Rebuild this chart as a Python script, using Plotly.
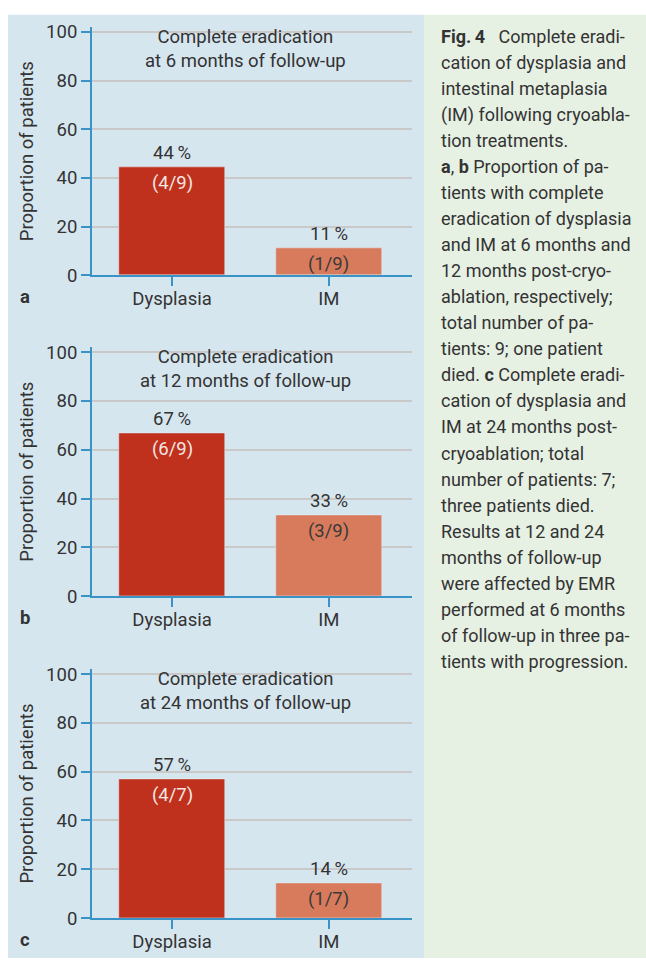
import plotly.graph_objects as go

W, H = 646, 969

categories = ["Dysplasia", "IM"]
panel_labels = ["a", "b", "c"]
panel_titles = ["Complete eradication<br>at 6 months of follow-up",
                "Complete eradication<br>at 12 months of follow-up",
                "Complete eradication<br>at 24 months of follow-up"]
values_a = [44.4, 11.1]
values_b = [66.7, 33.3]
values_c = [57.1, 14.3]
pct_a = ["44\u2009%", "11\u2009%"]
pct_b = ["67\u2009%", "33\u2009%"]
pct_c = ["57\u2009%", "14\u2009%"]
frac_a = ["(4/9)", "(1/9)"]
frac_b = ["(6/9)", "(3/9)"]
frac_c = ["(4/7)", "(1/7)"]
y_ticks = [0, 20, 40, 60, 80, 100]

caption_lines = [
    "<b>Fig.\u20094</b>   Complete eradi-",
    "cation of dysplasia and",
    "intestinal metaplasia",
    "(IM) following cryoabla-",
    "tion treatments.",
    "<b>a</b>, <b>b</b> Proportion of pa-",
    "tients with complete",
    "eradication of dysplasia",
    "and IM at 6 months and",
    "12 months post-cryo-",
    "ablation, respectively;",
    "total number of pa-",
    "tients: 9; one patient",
    "died. <b>c</b> Complete eradi-",
    "cation of dysplasia and",
    "IM at 24 months post-",
    "cryoablation; total",
    "number of patients: 7;",
    "three patients died.",
    "Results at 12 and 24",
    "months of follow-up",
    "were affected by EMR",
    "performed at 6 months",
    "of follow-up in three pa-",
    "tients with progression.",
]

FONT = "Roboto"
FS = 18.5
TXT = "#333333"
AX = "#3a93c6"
BAR_COLORS = ["#bf311d", "#d87b5c"]
FRAC_COLORS = ["#f4e6e2", "#3a3a3a"]

panels = [
    (values_a, pct_a, frac_a, 21.5, 274.0),
    (values_b, pct_b, frac_b, 347.3, 600.7),
    (values_c, pct_c, frac_c, 675.0, 928.3),
]

def py(p):
    return 1 - p / H

fig = go.Figure()
annotations = []
shapes = [
    dict(type="rect", xref="paper", yref="paper", x0=8 / W, x1=424 / W, y0=0, y1=py(9),
         fillcolor="#d6e6ef", line_width=0, layer="below"),
    dict(type="rect", xref="paper", yref="paper", x0=424 / W, x1=1, y0=0, y1=py(9),
         fillcolor="#e6f0e3", line_width=0, layer="below"),
]
layout_axes = {}
x_range = [-0.51, 1.53]

for i, (vals, pcts, fracs, top, bot) in enumerate(panels):
    n = "" if i == 0 else str(i + 1)
    xa, ya = "x" + n, "y" + n
    fig.add_trace(go.Bar(x=categories, y=vals, marker_color=BAR_COLORS, width=0.675,
                         xaxis=xa, yaxis=ya, showlegend=False, hoverinfo="skip"))
    layout_axes["xaxis" + n] = dict(
        domain=[92 / W, 412 / W], range=x_range, anchor=ya, showline=True, linecolor=AX,
        linewidth=2, ticks="outside", tickcolor=AX, tickwidth=2, ticklen=9,
        ticklabelstandoff=-3,
        tickfont=dict(family=FONT, size=FS, color=TXT), showgrid=False, fixedrange=True)
    layout_axes["yaxis" + n] = dict(
        domain=[py(bot), py(top)], range=[0, 102], anchor=xa, showline=True, linecolor=AX,
        linewidth=2, ticks="outside", tickcolor=AX, tickwidth=2, ticklen=9,
        tickvals=y_ticks, tickfont=dict(family=FONT, size=FS, color=TXT),
        showgrid=True, gridcolor="#c9c9c9", gridwidth=1.5, zeroline=False,
        title=dict(text="Proportion of patients", font=dict(family=FONT, size=FS, color=TXT),
                   standoff=8),
        fixedrange=True)
    annotations.append(dict(xref=xa + " domain", yref=ya, x=0.48, y=100, yshift=8,
                            text=panel_titles[i], showarrow=False, yanchor="top",
                            font=dict(family=FONT, size=FS, color=TXT)))
    for j, c in enumerate(categories):
        annotations.append(dict(xref=xa, yref=ya, x=c, y=vals[j], yshift=1, yanchor="bottom",
                                text=pcts[j], showarrow=False,
                                font=dict(family=FONT, size=FS, color=TXT)))
        annotations.append(dict(xref=xa, yref=ya, x=c, y=vals[j], yshift=-3, yanchor="top",
                                text=fracs[j], showarrow=False,
                                font=dict(family=FONT, size=FS, color=FRAC_COLORS[j])))
    annotations.append(dict(xref="paper", yref="paper", x=18 / W, y=py(bot + 22),
                            xanchor="left", yanchor="middle", text="<b>" + panel_labels[i] + "</b>",
                            showarrow=False, font=dict(family=FONT, size=FS, color=TXT)))

for k, line in enumerate(caption_lines):
    annotations.append(dict(xref="paper", yref="paper", x=439 / W, y=py(31 + k * 26.5),
                            xanchor="left", yanchor="middle", text=line, showarrow=False,
                            font=dict(family=FONT, size=18, color=TXT)))

fig.update_layout(
    width=W, height=H, margin=dict(l=0, r=0, t=0, b=0),
    paper_bgcolor="white", plot_bgcolor="white",
    annotations=annotations, shapes=shapes, bargap=0, **layout_axes)

fig.write_html("out.html", config={"displayModeBar": False},
               post_script="document.body.style.margin='0';document.documentElement.style.overflow='hidden';")
